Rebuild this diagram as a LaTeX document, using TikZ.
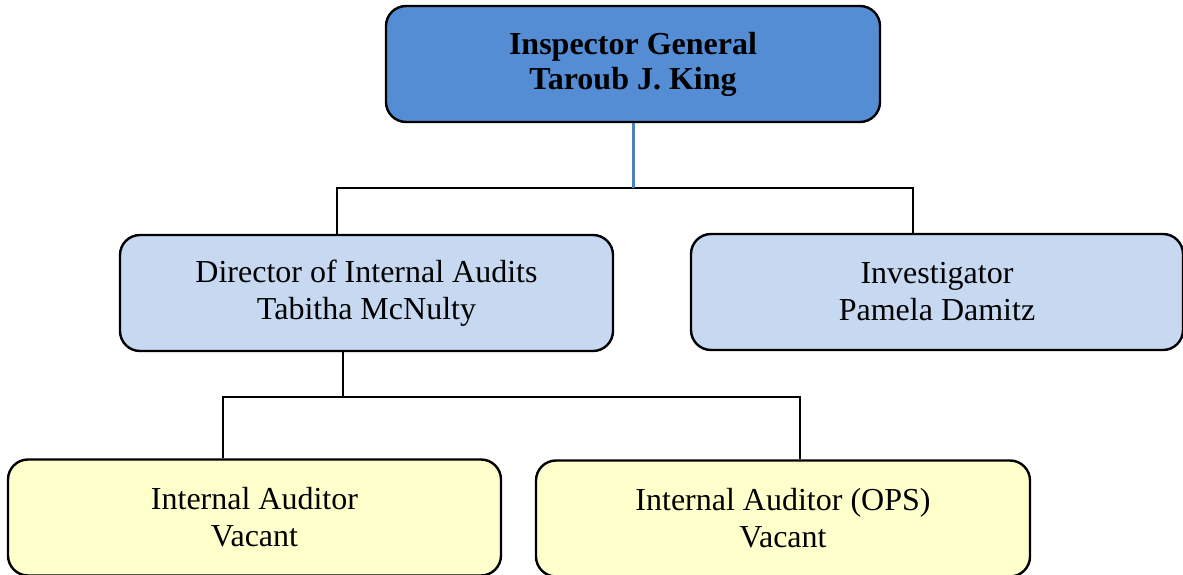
\documentclass[tikz,border=0pt]{standalone}
\usepackage{fontspec}
\setmainfont{Liberation Serif}
\definecolor{topblue}{HTML}{548DD4}
\definecolor{lightblue}{HTML}{C6D9F1}
\definecolor{lightyellow}{HTML}{FFFFCC}
\definecolor{linkblue}{HTML}{4F81BD}
\begin{document}
\begin{tikzpicture}[x=1pt,y=-1pt,
  box/.style={draw=black,line width=2.4pt,rounded corners=20pt,align=center,
    inner sep=0pt,font=\fontsize{32}{37}\selectfont},
  link/.style={draw=black,line width=2.2pt},
  bluelink/.style={draw=linkblue,line width=3pt}]
\useasboundingbox (0,0) rectangle (1183,575);
\node[box,fill=topblue,minimum width=494pt,minimum height=116pt,font=\fontsize{32}{35}\selectfont\bfseries] (ig) at (633,64) {Inspector General\\Taroub J. King};
\node[box,fill=lightblue,minimum width=493pt,minimum height=116pt] (dir) at (366.5,293) {Director of Internal Audits\\Tabitha McNulty};
\node[box,fill=lightblue,minimum width=492pt,minimum height=116pt] (inv) at (937,292) {Investigator\\Pamela Damitz};
\node[box,fill=lightyellow,minimum width=493pt,minimum height=116pt] (ia1) at (254.5,517.5) {Internal Auditor\\Vacant};
\node[box,fill=lightyellow,minimum width=494pt,minimum height=116pt] (ia2) at (783,518.5) {Internal Auditor (OPS)\\Vacant};
\coordinate (j1) at (633,188);
\coordinate (b1) at (337,188);
\coordinate (b2) at (913,188);
\coordinate (d1) at (343,397);
\coordinate (c1) at (223,397);
\coordinate (c2) at (800,397);
\draw[link] (dir.north -| b1) -- (b1) -- (b2) -- (inv.north -| b2);
\draw[bluelink] (ig.south) -- (j1);
\draw[link] (dir.south -| d1) -- (d1);
\draw[link] (ia1.north -| c1) -- (c1) -- (c2) -- (ia2.north -| c2);
\end{tikzpicture}
\end{document}
